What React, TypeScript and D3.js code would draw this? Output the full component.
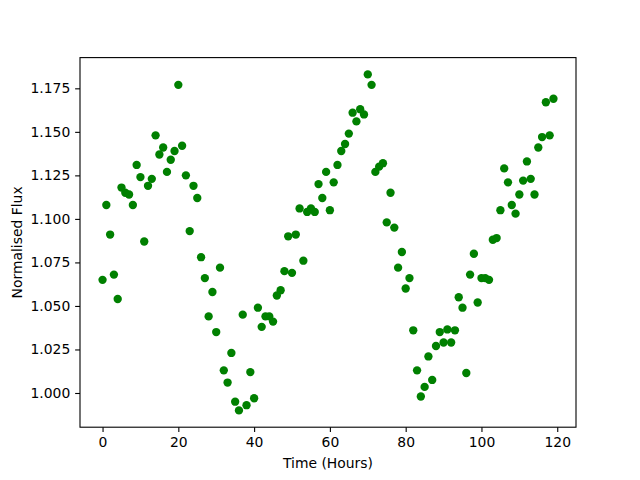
import React, { useEffect, useRef } from "react";
import * as d3 from "d3";

// time of each sample, in hours
const hours = [
  0, 1, 2, 3, 4, 5, 6, 7, 8, 9, 10, 11, 12, 13, 14, 15, 16, 17, 18, 19,
  20, 21, 22, 23, 24, 25, 26, 27, 28, 29, 30, 31, 32, 33, 34, 35, 36, 37, 38, 39,
  40, 41, 42, 43, 44, 45, 46, 47, 48, 49, 50, 51, 52, 53, 54, 55, 56, 57, 58, 59,
  60, 61, 62, 63, 64, 65, 66, 67, 68, 69, 70, 71, 72, 73, 74, 75, 76, 77, 78, 79,
  80, 81, 82, 83, 84, 85, 86, 87, 88, 89, 90, 91, 92, 93, 94, 95, 96, 97, 98, 99,
  100, 101, 102, 103, 104, 105, 106, 107, 108, 109, 110, 111, 112, 113, 114, 115, 116, 117, 118, 119,
];

// normalised flux
const flux = [
  1.065, 1.108, 1.091, 1.068, 1.054, 1.118, 1.115, 1.114, 1.108, 1.131,
  1.124, 1.087, 1.119, 1.123, 1.148, 1.137, 1.141, 1.127, 1.134, 1.139,
  1.177, 1.142, 1.125, 1.093, 1.119, 1.112, 1.078, 1.066, 1.044, 1.058,
  1.035, 1.072, 1.013, 1.006, 1.023, 0.995, 0.990, 1.045, 0.993, 1.012,
  0.997, 1.049, 1.038, 1.044, 1.044, 1.041, 1.056, 1.059, 1.070, 1.090,
  1.069, 1.091, 1.106, 1.076, 1.104, 1.106, 1.104, 1.120, 1.112, 1.127,
  1.105, 1.121, 1.131, 1.139, 1.143, 1.149, 1.161, 1.156, 1.163, 1.160,
  1.183, 1.177, 1.127, 1.130, 1.132, 1.098, 1.115, 1.095, 1.072, 1.081,
  1.060, 1.066, 1.036, 1.013, 0.998, 1.0035, 1.021, 1.0075, 1.027, 1.035,
  1.029, 1.0365, 1.029, 1.036, 1.055, 1.049, 1.0115, 1.068, 1.080, 1.052,
  1.066, 1.066, 1.065, 1.088, 1.089, 1.105, 1.129, 1.121, 1.108, 1.103,
  1.114, 1.122, 1.133, 1.123, 1.114, 1.141, 1.147, 1.167, 1.148, 1.169,
];

const xTicks = [0, 20, 40, 60, 80, 100, 120];
const yTicks = [1.0, 1.025, 1.05, 1.075, 1.1, 1.125, 1.15, 1.175];

const WIDTH = 640;
const HEIGHT = 480;
const MARGIN = { TOP: 57.6, RIGHT: 64, BOTTOM: 52.8, LEFT: 80 };
const FONT = "'DejaVu Sans', sans-serif";
const FONT_SIZE = 13.9;
const TICK = 4.86;

const padded = (ext: [number, number]) => {
  const pad = (ext[1] - ext[0]) * 0.05;
  return [ext[0] - pad, ext[1] + pad];
};

const App = () => {
  const svgRef = useRef<SVGSVGElement>(null);

  useEffect(() => {
    const svg = d3.select(svgRef.current);
    svg.selectAll("*").remove();

    const xScale = d3
      .scaleLinear()
      .domain(padded(d3.extent(hours) as [number, number]))
      .range([MARGIN.LEFT, WIDTH - MARGIN.RIGHT]);
    const yScale = d3
      .scaleLinear()
      .domain(padded(d3.extent(flux) as [number, number]))
      .range([HEIGHT - MARGIN.BOTTOM, MARGIN.TOP]);

    svg
      .append("g")
      .selectAll("circle")
      .data(hours)
      .join("circle")
      .attr("cx", (d) => xScale(d))
      .attr("cy", (d, i) => yScale(flux[i]))
      .attr("r", 4.17)
      .attr("fill", "#008000");

    const xAxis = d3
      .axisBottom(xScale)
      .tickValues(xTicks)
      .tickFormat(d3.format("d"))
      .tickSizeOuter(0)
      .tickSize(TICK)
      .tickPadding(TICK);
    const yAxis = d3
      .axisLeft(yScale)
      .tickValues(yTicks)
      .tickFormat(d3.format(".3f"))
      .tickSizeOuter(0)
      .tickSize(TICK)
      .tickPadding(TICK);

    const gx = svg
      .append("g")
      .attr("transform", `translate(0,${HEIGHT - MARGIN.BOTTOM})`)
      .call(xAxis);
    const gy = svg
      .append("g")
      .attr("transform", `translate(${MARGIN.LEFT},0)`)
      .call(yAxis);

    [gx, gy].forEach((g) => {
      g.select(".domain").remove();
      g.selectAll("line").attr("stroke", "#000").attr("stroke-width", 1.1);
      g.selectAll("text")
        .attr("fill", "#000")
        .style("font-family", FONT)
        .style("font-size", `${FONT_SIZE}px`);
    });

    svg
      .append("rect")
      .attr("x", MARGIN.LEFT)
      .attr("y", MARGIN.TOP)
      .attr("width", WIDTH - MARGIN.LEFT - MARGIN.RIGHT)
      .attr("height", HEIGHT - MARGIN.TOP - MARGIN.BOTTOM)
      .attr("fill", "none")
      .attr("stroke", "#000")
      .attr("stroke-width", 1.1);

    svg
      .append("text")
      .attr("x", (MARGIN.LEFT + WIDTH - MARGIN.RIGHT) / 2)
      .attr("y", 468)
      .attr("text-anchor", "middle")
      .style("font-family", FONT)
      .style("font-size", `${FONT_SIZE}px`)
      .text("Time (Hours)");

    svg
      .append("text")
      .attr(
        "transform",
        `translate(22,${(MARGIN.TOP + HEIGHT - MARGIN.BOTTOM) / 2}) rotate(-90)`
      )
      .attr("text-anchor", "middle")
      .style("font-family", FONT)
      .style("font-size", `${FONT_SIZE}px`)
      .text("Normalised Flux");
  }, []);

  return (
    <div style={{ position: "absolute", left: 0, top: 0 }}>
      <svg ref={svgRef} width={WIDTH} height={HEIGHT} style={{ display: "block", background: "#fff" }} />
    </div>
  );
};

export default App;
